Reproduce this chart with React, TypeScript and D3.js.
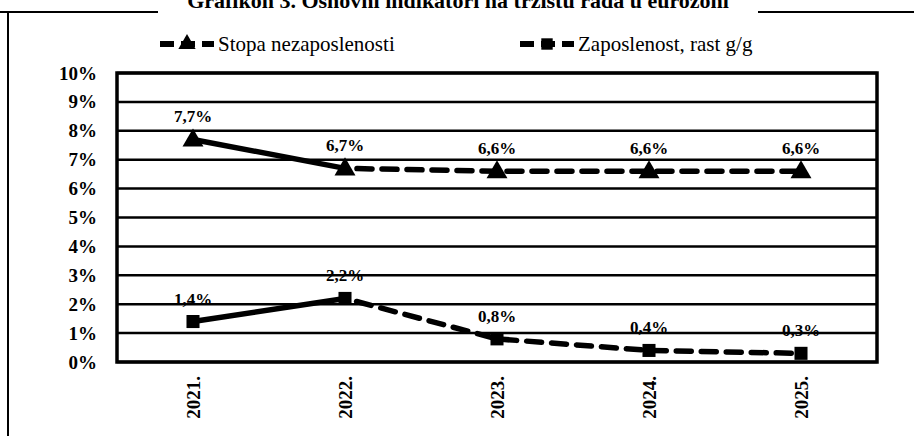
import React, { useEffect, useRef } from 'react';
import * as d3 from 'd3';

// chart data
const years: string[] = ['2021.', '2022.', '2023.', '2024.', '2025.'];
const unemployment: number[] = [7.7, 6.7, 6.6, 6.6, 6.6];
const employmentGrowth: number[] = [1.4, 2.2, 0.8, 0.4, 0.3];
const yTicks: number[] = [0, 1, 2, 3, 4, 5, 6, 7, 8, 9, 10];
const seriesNames: string[] = ['Stopa nezaposlenosti', 'Zaposlenost, rast g/g'];
const title = 'Grafikon 3. Osnovni indikatori na tržištu rada u eurozoni';

const fmt = (v: number) => v.toFixed(1).replace('.', ',') + '%';

const App: React.FC = () => {
  const svgRef = useRef<SVGSVGElement | null>(null);

  useEffect(() => {
    const width = 914;
    const height = 436;
    const margin = { top: 73, right: 37, bottom: 74, left: 117 };
    const font = '"Liberation Serif", "Times New Roman", serif';

    const svg = d3.select(svgRef.current)
      .attr('width', width)
      .attr('height', height)
      .style('background', '#fff');

    svg.selectAll('*').remove();

    const x = d3.scaleBand<string>()
      .domain(years)
      .range([margin.left, width - margin.right]);

    const y = d3.scaleLinear()
      .domain([0, 10])
      .range([height - margin.bottom, margin.top]);

    const cx = (i: number) => (x(years[i]) || 0) + x.bandwidth() / 2;

    // frame around the whole figure (only top and left survive in the scan)
    svg.append('line')
      .attr('x1', 8).attr('x2', 8).attr('y1', 12).attr('y2', height)
      .attr('stroke', '#000').attr('stroke-width', 2);
    svg.append('line')
      .attr('x1', 0).attr('x2', 158).attr('y1', 12).attr('y2', 12)
      .attr('stroke', '#000').attr('stroke-width', 2);
    svg.append('line')
      .attr('x1', 758).attr('x2', width).attr('y1', 12).attr('y2', 12)
      .attr('stroke', '#000').attr('stroke-width', 2);

    // title, partly cut off at the top like in the scan
    svg.append('text')
      .attr('x', 458)
      .attr('y', 8)
      .attr('text-anchor', 'middle')
      .attr('font-family', font)
      .attr('font-weight', 'bold')
      .attr('font-size', 22)
      .text(title);

    // gridlines
    svg.append('g')
      .selectAll('line')
      .data(yTicks)
      .enter()
      .append('line')
      .attr('x1', margin.left)
      .attr('x2', width - margin.right)
      .attr('y1', d => y(d))
      .attr('y2', d => y(d))
      .attr('stroke', '#000')
      .attr('stroke-width', 2.5);

    // plot border
    svg.append('rect')
      .attr('x', margin.left)
      .attr('y', margin.top)
      .attr('width', width - margin.left - margin.right)
      .attr('height', height - margin.top - margin.bottom)
      .attr('fill', 'none')
      .attr('stroke', '#000')
      .attr('stroke-width', 3.5);

    // y axis labels
    const yAxis = d3.axisLeft(y)
      .tickValues(yTicks)
      .tickSize(0)
      .tickPadding(20)
      .tickFormat(d => `${d}%`);
    const yg = svg.append('g')
      .attr('transform', `translate(${margin.left}, 0)`)
      .call(yAxis);
    yg.select('.domain').remove();
    yg.selectAll('text')
      .attr('font-family', font)
      .attr('font-weight', 'bold')
      .attr('font-size', 19)
      .attr('fill', '#000');

    // x axis labels, rotated
    const xAxis = d3.axisBottom(x).tickSize(0).tickPadding(0);
    const xg = svg.append('g')
      .attr('transform', `translate(0, ${height - margin.bottom})`)
      .call(xAxis);
    xg.select('.domain').remove();
    xg.selectAll('text')
      .attr('font-family', font)
      .attr('font-weight', 'bold')
      .attr('font-size', 19)
      .attr('fill', '#000')
      .attr('transform', 'rotate(-90)')
      .attr('text-anchor', 'end')
      .attr('dy', '0.35em')
      .attr('x', -14)
      .attr('y', 0);

    const line = d3.line<number>()
      .x((_, i) => cx(i))
      .y(d => y(d));

    const drawSeries = (values: number[], marker: 'triangle' | 'square') => {
      const g = svg.append('g');
      // solid first segment
      g.append('path')
        .datum(values.slice(0, 2))
        .attr('d', line)
        .attr('fill', 'none')
        .attr('stroke', '#000')
        .attr('stroke-width', 5.5);
      // dashed remainder
      const rest = d3.line<number>()
        .x((_, i) => cx(i + 1))
        .y(d => y(d));
      g.append('path')
        .datum(values.slice(1))
        .attr('d', rest)
        .attr('fill', 'none')
        .attr('stroke', '#000')
        .attr('stroke-width', 5.5)
        .attr('stroke-dasharray', '15,10')
        .attr('stroke-dashoffset', -12)
        .attr('stroke-linecap', 'round');

      const sym = d3.symbol()
        .type(marker === 'triangle' ? d3.symbolTriangle : d3.symbolSquare)
        .size(marker === 'triangle' ? 190 : 170);
      g.selectAll('.marker')
        .data(values)
        .enter()
        .append('path')
        .attr('transform', (d, i) => `translate(${cx(i)}, ${y(d) + (marker === 'triangle' ? 1 : 0)})`)
        .attr('d', sym)
        .attr('fill', '#000');

      g.selectAll('.label')
        .data(values)
        .enter()
        .append('text')
        .attr('x', (_, i) => cx(i))
        .attr('y', d => y(d) - 17)
        .attr('text-anchor', 'middle')
        .attr('font-family', font)
        .attr('font-weight', 'bold')
        .attr('font-size', 17)
        .text(d => fmt(d));
    };

    drawSeries(unemployment, 'triangle');
    drawSeries(employmentGrowth, 'square');

    // legend
    const legendItems = [
      { name: seriesNames[0], x: 160, marker: d3.symbolTriangle },
      { name: seriesNames[1], x: 520, marker: d3.symbolSquare },
    ];
    const lg = svg.append('g').attr('transform', 'translate(0, 44)');
    legendItems.forEach(item => {
      lg.append('line')
        .attr('x1', item.x).attr('x2', item.x + 54)
        .attr('y1', 0).attr('y2', 0)
        .attr('stroke', '#000')
        .attr('stroke-width', 6)
        .attr('stroke-dasharray', '14,7');
      lg.append('path')
        .attr('transform', `translate(${item.x + 27}, 0)`)
        .attr('d', d3.symbol().type(item.marker).size(130))
        .attr('fill', '#000');
      lg.append('text')
        .attr('x', item.x + 58)
        .attr('y', 0)
        .attr('dy', '0.35em')
        .attr('font-family', font)
        .attr('font-size', 21)
        .text(item.name);
    });
  }, []);

  return (
    <svg ref={svgRef} style={{ position: 'absolute', left: 0, top: 0, display: 'block' }}></svg>
  );
};

export default App;
